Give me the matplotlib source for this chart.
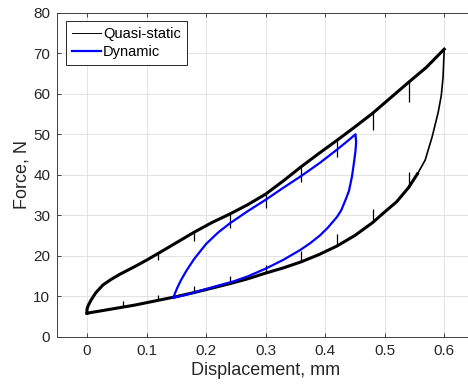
import numpy as np
import matplotlib
matplotlib.use("Agg")
import matplotlib.pyplot as plt
from matplotlib.lines import Line2D

plt.rcParams['font.family'] = ['Liberation Sans', 'DejaVu Sans']

# quasi-static loop: noisy part (lower branch 0 -> 0.54, upper branch 0.6 -> 0)
qs_low_x = [0.0, 0.02, 0.04, 0.06, 0.08, 0.10, 0.12, 0.15, 0.18, 0.21, 0.24,
            0.27, 0.30, 0.33, 0.36, 0.39, 0.42, 0.45, 0.48, 0.50, 0.52, 0.54,
            0.555]
qs_low_f = [5.8, 6.3, 6.8, 7.3, 7.8, 8.4, 9.0, 9.9, 10.9, 12.0, 13.1,
            14.3, 15.7, 17.0, 18.5, 20.3, 22.4, 25.0, 28.2, 30.8, 33.3, 36.8,
            40.2]
# steep end of the lower branch (smooth, thin trace)
qs_end_x = [0.54, 0.555, 0.568, 0.58, 0.59, 0.595, 0.598, 0.600]
qs_end_f = [36.8, 40.2, 43.6, 49.5, 55.5, 59.5, 64.0, 71.0]
qs_up_x = [0.600, 0.57, 0.54, 0.51, 0.48, 0.45, 0.42, 0.39, 0.36, 0.33, 0.30,
           0.27, 0.24, 0.21, 0.18, 0.15, 0.12, 0.10, 0.08, 0.055, 0.04, 0.027,
           0.015, 0.007, 0.002, 0.0, 0.0]
qs_up_f = [71.0, 66.5, 62.8, 59.0, 55.2, 51.8, 48.5, 45.3, 42.0, 38.5, 35.2,
           32.6, 30.3, 28.2, 25.8, 23.2, 20.6, 18.9, 17.3, 15.4, 14.1, 12.8,
           10.9, 9.1, 7.7, 6.8, 5.8]

# spikes on the quasi-static record: position, base force, tip force
spike_x = [0.06, 0.12, 0.18, 0.24, 0.30, 0.36, 0.42, 0.48, 0.54,
           0.12, 0.18, 0.24, 0.30, 0.36, 0.42, 0.48, 0.54]
spike_base = [7.3, 9.0, 10.9, 13.1, 15.7, 18.5, 22.4, 28.2, 36.8,
              20.6, 25.8, 30.3, 35.2, 42.0, 48.5, 55.2, 62.8]
spike_tip = [8.8, 10.4, 12.6, 14.9, 17.8, 21.2, 25.4, 31.6, 40.6,
             19.0, 23.6, 26.8, 31.8, 38.2, 44.3, 51.0, 58.0]

# dynamic loop
dyn_x = [0.145, 0.148, 0.152, 0.158, 0.167, 0.18, 0.20, 0.22, 0.24, 0.27,
         0.30, 0.33, 0.36, 0.39, 0.42, 0.44, 0.451,
         0.452, 0.451, 0.449, 0.445, 0.440, 0.434, 0.427, 0.420, 0.405,
         0.392, 0.375, 0.358, 0.33, 0.30, 0.27, 0.247, 0.22, 0.196, 0.17, 0.145]
dyn_f = [9.6, 10.8, 12.2, 14.0, 16.3, 19.2, 22.9, 25.7, 28.0, 31.0,
         33.8, 36.8, 39.7, 42.8, 46.2, 48.6, 50.0,
         48.0, 46.0, 43.6, 39.5, 36.0, 33.7, 31.2, 29.6, 27.0,
         25.1, 23.1, 21.4, 19.0, 16.8, 14.9, 13.7, 12.6, 11.6, 10.5, 9.6]

x_ticks = [0, 0.1, 0.2, 0.3, 0.4, 0.5, 0.6]
x_labels = ['0', '0.1', '0.2', '0.3', '0.4', '0.5', '0.6']
y_ticks = [0, 10, 20, 30, 40, 50, 60, 70, 80]

dark = '#262626'

fig = plt.figure(figsize=(4.68, 3.88), dpi=100)
ax = fig.add_axes([0.1223, 0.1322, 0.8905, 0.8351])

ax.plot(qs_low_x, qs_low_f, color='black', lw=2.2)
ax.plot(qs_end_x, qs_end_f, color='black', lw=1.2)
ax.plot(qs_up_x, qs_up_f, color='black', lw=2.2)
ax.vlines(spike_x, spike_base, spike_tip, color='black', lw=0.9)
ax.plot(dyn_x, dyn_f, color='#0000ff', lw=1.6)

ax.set_xlim(-0.05, 0.65)
ax.set_ylim(0, 80)
ax.set_xticks(x_ticks)
ax.set_xticklabels(x_labels)
ax.set_yticks(y_ticks)
ax.grid(True, color='#e3e3e3', lw=0.7)
ax.set_axisbelow(True)
ax.tick_params(direction='in', length=3, width=0.6, top=True, right=True,
               colors=dark, labelsize=11, pad=5)
for s in ax.spines.values():
    s.set_color('#404040')
    s.set_linewidth(0.7)

ax.set_xlabel('Displacement, mm', fontsize=13, color=dark, labelpad=3)
ax.set_ylabel('Force, N', fontsize=13, color=dark, labelpad=2)

handles = [Line2D([], [], color='black', lw=0.7),
           Line2D([], [], color='#0000ff', lw=1.6)]
leg = ax.legend(handles, ['Quasi-static', 'Dynamic'], loc='upper left',
                bbox_to_anchor=(0.021, 0.974), borderaxespad=0, fontsize=10.5,
                fancybox=False, framealpha=1, edgecolor=dark,
                handlelength=2.0, handletextpad=0.15, borderpad=0.4,
                labelspacing=0.3)
leg.get_frame().set_linewidth(0.7)

fig.savefig('out.png', dpi=100)
